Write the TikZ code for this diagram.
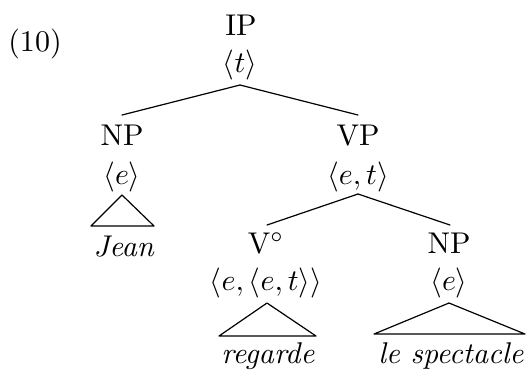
\documentclass[tikz,border=0pt]{standalone}
\begin{document}
\begin{tikzpicture}[x=0.3333pt,y=-0.3333pt,
  lab/.style={anchor=base,inner sep=0pt},
  edge/.style={line width=0.4pt,line cap=round,line join=round}]
\useasboundingbox (0,0) rectangle (527,369);
% labels
\node[lab] (num) at (35,51) {(10)};
\node[lab] (ip) at (241,35) {IP};
\node[lab] (ipt) at (240,72) {$\langle t\rangle$};
\node[lab] (np1) at (122,145) {NP};
\node[lab] (np1t) at (122,184) {$\langle e\rangle$};
\node[lab] (jean) at (124,256) {\textit{Jean}};
\node[lab] (vp) at (358,145) {VP};
\node[lab] (vpt) at (358,184) {$\langle e,t\rangle$};
\node[lab] (v) at (266,253) {V$^\circ$};
\node[lab] (vt) at (266,290) {$\langle e,\langle e,t\rangle\rangle$};
\node[lab] (reg) at (268,363) {\textit{regarde}};
\node[lab] (np2) at (449,253) {NP};
\node[lab] (np2t) at (449,290) {$\langle e\rangle$};
\node[lab] (spec) at (451,363) {\textit{le spectacle}};
% attachment points
\coordinate (ip-b) at (240,85);
\coordinate (np1-t) at (122,115);
\coordinate (vp-t) at (358,115);
\coordinate (vp-b) at (358,194);
\coordinate (v-t) at (267,225);
\coordinate (np2-t) at (450,225);
\coordinate (np1-b) at (122,195);
\coordinate (jl) at (91,226);
\coordinate (jr) at (154,226);
\coordinate (v-b) at (267,303);
\coordinate (rl) at (219,336);
\coordinate (rr) at (316,336);
\coordinate (np2-b) at (449,303);
\coordinate (sl) at (374,334);
\coordinate (sr) at (525,334);
% branches
\draw[edge] (ip-b) -- (np1-t);
\draw[edge] (ip-b) -- (vp-t);
\draw[edge] (vp-b) -- (v-t);
\draw[edge] (vp-b) -- (np2-t);
% triangles
\draw[edge] (np1-b) -- (jl) -- (jr) -- cycle;
\draw[edge] (v-b) -- (rl) -- (rr) -- cycle;
\draw[edge] (np2-b) -- (sl) -- (sr) -- cycle;
\end{tikzpicture}
\end{document}
